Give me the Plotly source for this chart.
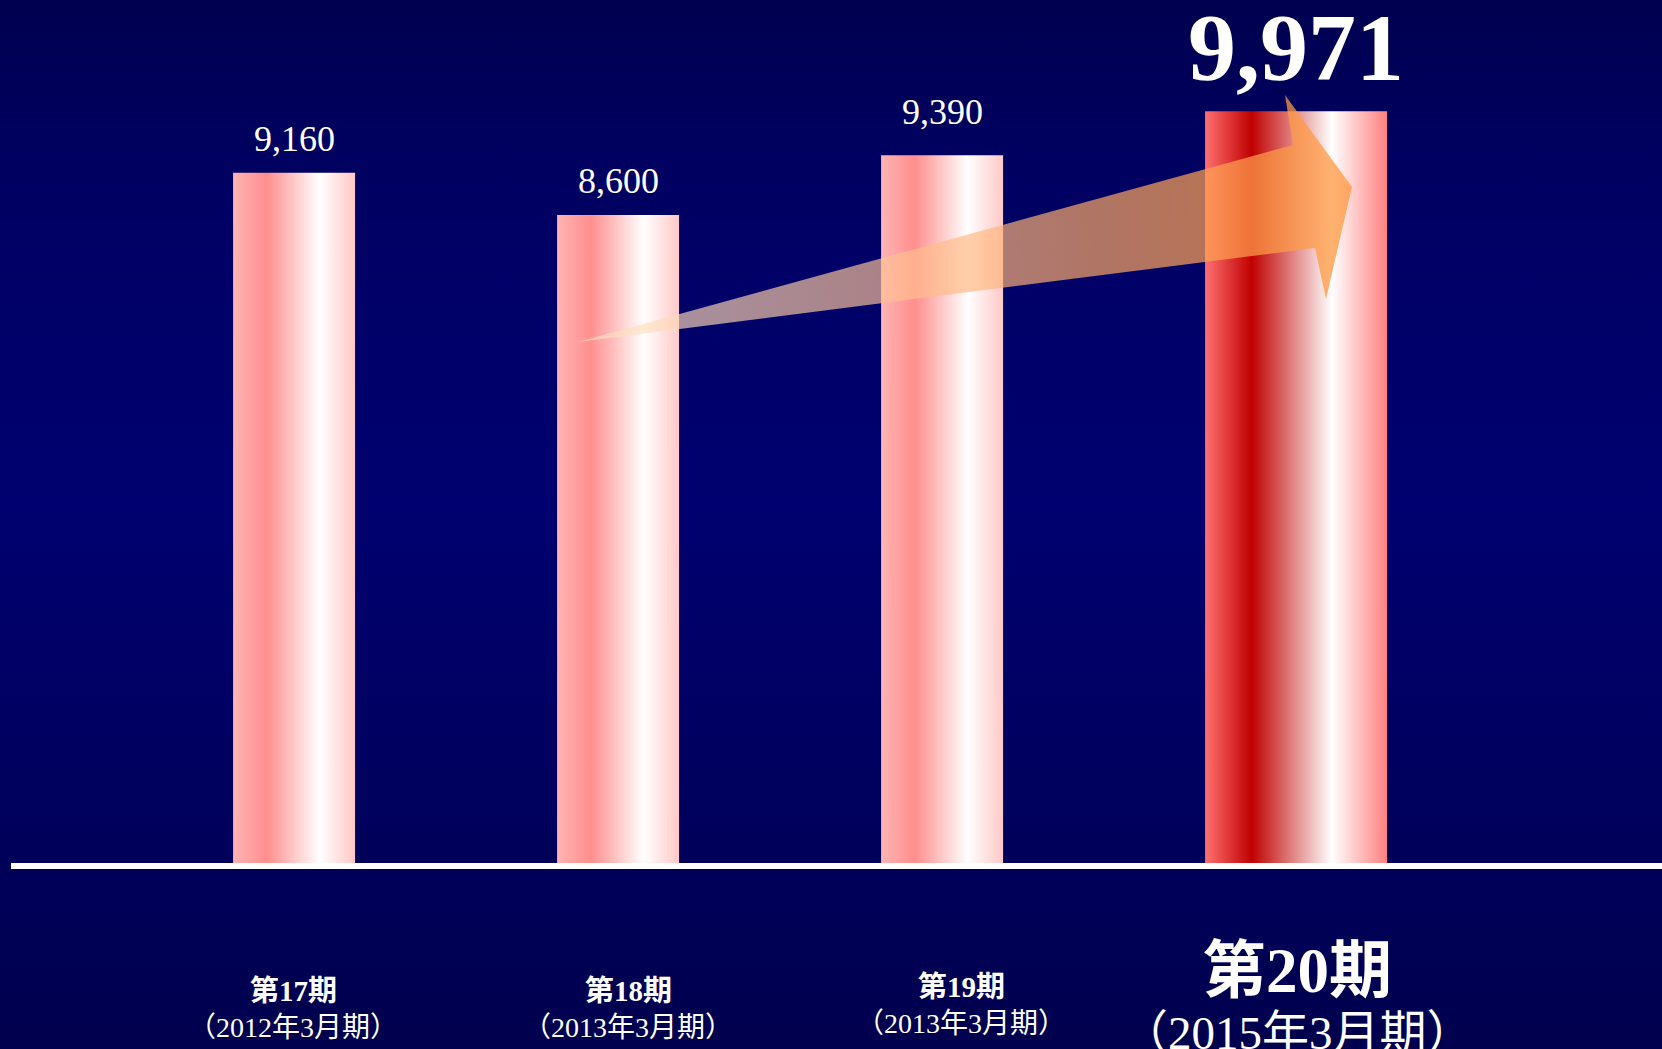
import plotly.graph_objects as go

# --- data ---------------------------------------------------------------
periods = ["第17期", "第18期", "第19期", "第20期"]
fiscal_terms = ["（2012年3月期）", "（2013年3月期）", "（2013年3月期）", "（2015年3月期）"]
values = [9160, 8600, 9390, 9971]

# --- styling ------------------------------------------------------------
W, H = 1662, 1049
X_RANGE = [-0.9074, 4.2222]          # 324 px per category slot
Y_RANGE = [-2418, 11441]             # zero sits on the white base line
BAR_OFFSET = -0.188                  # left edge relative to the category
BAR_W = 0.3765
BAR_W_HIGHLIGHT = 0.5617

SERIF = "Liberation Serif, Times New Roman, Noto Sans CJK JP, serif"

normal_scale = [[0.0, "#ffb4b4"], [0.276, "#ff8e8e"], [0.71, "#ffffff"], [1.0, "#ffc8c8"]]
highlight_scale = [[0.0, "#ff7070"], [0.256, "#c00000"], [0.696, "#ffffff"], [1.0, "#ff8080"]]

fig = go.Figure()

# navy backdrop with a soft vertical glow
fig.add_trace(go.Scatter(
    x=[X_RANGE[0], X_RANGE[1], X_RANGE[1], X_RANGE[0], X_RANGE[0]],
    y=[Y_RANGE[0], Y_RANGE[0], Y_RANGE[1], Y_RANGE[1], Y_RANGE[0]],
    mode="lines", line=dict(width=0, color="rgba(0,0,0,0)"),
    fill="toself",
    fillgradient=dict(type="vertical", colorscale=[
        [0.0, "#00004e"], [0.174, "#00005a"], [0.52, "#000070"],
        [0.73, "#000068"], [0.857, "#000060"], [1.0, "#000050"]]),
    hoverinfo="skip", showlegend=False,
))

# bars with a horizontal cylinder-like shading
last = len(values) - 1
centers = []
for i, v in enumerate(values):
    w = BAR_W_HIGHLIGHT if i == last else BAR_W
    left = i + BAR_OFFSET
    right = left + w
    centers.append(left + w / 2)
    fig.add_trace(go.Scatter(
        x=[left, right, right, left, left],
        y=[0, 0, v, v, 0],
        mode="lines", line=dict(width=0, color="rgba(0,0,0,0)"),
        fill="toself",
        fillgradient=dict(type="horizontal",
                          colorscale=highlight_scale if i == last else normal_scale),
        hoverinfo="skip", showlegend=False,
    ))

# translucent growth arrow from the 18th period towards the 20th
arrow_x = [0.8765, 3.0833, 3.0586, 3.2654, 3.1852, 3.1512, 0.8765]
arrow_y = [6924, 9526, 10187, 8971, 7491, 8165, 6924]
fig.add_trace(go.Scatter(
    x=arrow_x, y=arrow_y,
    mode="lines", line=dict(width=0, color="rgba(0,0,0,0)"),
    fill="toself",
    fillgradient=dict(type="horizontal", colorscale=[
        [0.0, "rgba(255,228,200,0.66)"], [0.39, "rgba(255,195,150,0.67)"],
        [0.67, "rgba(255,170,100,0.69)"], [1.0, "rgba(255,150,60,0.75)"]]),
    hoverinfo="skip", showlegend=False,
))

annotations = []
# value labels
value_yshift = [12, 12, 21, 8]
for i, v in enumerate(values):
    big = i == last
    annotations.append(dict(
        x=centers[i], y=v, xref="x", yref="y",
        text=f"<b>{v:,}</b>" if big else f"{v:,}",
        showarrow=False, yanchor="bottom", xanchor="center",
        yshift=value_yshift[i],
        font=dict(family=SERIF, size=96 if big else 36, color="white"),
    ))

# category labels below the base line
label_xshift = [-1, 10, 19, 1]
line1_y = [991, 991, 987, 971]
line2_y = [1027, 1027, 1023, 1033]
for i, (p, f) in enumerate(zip(periods, fiscal_terms)):
    big = i == last
    annotations.append(dict(
        x=centers[i], xref="x", y=1 - line1_y[i] / H, yref="paper",
        text=f"<b>{p}</b>", showarrow=False,
        xanchor="center", yanchor="middle", xshift=label_xshift[i],
        font=dict(family=SERIF, size=63 if big else 29, color="white"),
    ))
    annotations.append(dict(
        x=centers[i], xref="x", y=1 - line2_y[i] / H, yref="paper",
        text=f, showarrow=False,
        xanchor="center", yanchor="middle", xshift=label_xshift[i],
        font=dict(family=SERIF, size=47 if big else 28, color="white"),
    ))

fig.update_layout(
    width=W, height=H, autosize=False,
    margin=dict(l=0, r=0, t=0, b=0, pad=0),
    paper_bgcolor="#000060", plot_bgcolor="#000060",
    xaxis=dict(range=X_RANGE, visible=False, fixedrange=True),
    yaxis=dict(range=Y_RANGE, visible=False, fixedrange=True),
    showlegend=False,
    annotations=annotations,
    shapes=[dict(type="line", xref="paper", yref="y",
                 x0=11 / W, x1=1, y0=0, y1=0,
                 line=dict(color="white", width=6), layer="above")],
)

fig.write_html("out.html")
